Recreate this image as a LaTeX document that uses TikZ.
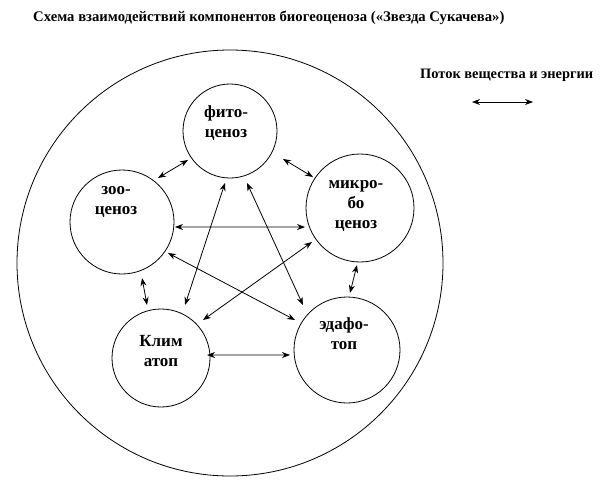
\documentclass[tikz,border=0pt]{standalone}
\usepackage{fontspec}
\setmainfont{Liberation Serif}
\usetikzlibrary{arrows.meta,calc}
\tikzset{
  ring/.style={draw, circle, line width=0.8pt, inner sep=0pt},
  lbl/.style={font=\fontsize{17}{20}\selectfont\bfseries, align=center, inner sep=0pt},
  flow/.style={line width=0.8pt, {Stealth[length=8pt,width=6pt]}-{Stealth[length=8pt,width=6pt]}},
}
\begin{document}
\begin{tikzpicture}[x=1pt,y=-1pt]
\useasboundingbox (0,0) rectangle (600,480);
% title and legend
\node[font=\fontsize{14.7}{16}\selectfont\bfseries, anchor=west, inner sep=0pt] (title) at (33,18) {Схема взаимодействий компонентов биогеоценоза («Звезда Сукачева»)};
\node[font=\fontsize{14.4}{16}\selectfont\bfseries, anchor=west, inner sep=0pt] (legend) at (420,75) {Поток вещества и энергии};
\coordinate (la) at (472,102);
\coordinate (lb) at (533,102);
\draw[flow] (la) -- (lb);
% big circle
\node[ring, minimum size=426pt] (big) at (230,263) {};
% component circles
\node[ring, minimum size=94pt] (F) at (230,131) {};
\node[ring, minimum size=104pt] (Z) at (122,222) {};
\node[ring, minimum size=108pt] (M) at (360,208) {};
\node[ring, minimum size=98pt] (K) at (161,358) {};
\node[ring, minimum size=106pt] (E) at (347,350) {};
% texts
\node[lbl] (Ft) at (226,123) {фито-\\ценоз};
\node[lbl] (Zt) at (116,202) {зоо-\\ценоз};
\node[lbl] (Mt) at (356,206) {микро-\\бо\\ценоз};
\node[lbl] (Kt) at (161,351) {Клим\\атоп};
\node[lbl] (Et) at (344,334) {эдафо-\\топ};
% flows (angles negated because y points down)
\draw[flow] ($(F)+(-214.6:51)$) -- ($(Z)+(-50.7:56.9)$);
\draw[flow] ($(F)+(-332.2:59.9)$) -- ($(M)+(-146.6:56.3)$);
\draw[flow] ($(Z)+(-354.6:53.2)$) -- ($(M)+(-199.1:58.2)$);
\draw[flow] ($(F)+(-264.5:52.2)$) -- ($(K)+(-65.6:58.2)$);
\draw[flow] ($(F)+(-288.1:54.7)$) -- ($(E)+(-134.4:62.9)$);
\draw[flow] ($(Z)+(-326:55.5)$) -- ($(E)+(-150:60)$);
\draw[flow] ($(M)+(-215.3:58.8)$) -- ($(K)+(-42.1:56.6)$);
\draw[flow] ($(Z)+(-289.7:59.5)$) -- ($(K)+(-104.8:54.8)$);
\draw[flow] ($(M)+(-267:57.1)$) -- ($(E)+(-87:57.1)$);
\draw[flow] ($(K)+(-3.7:46.1)$) -- ($(E)+(-185:57.2)$);
\end{tikzpicture}
\end{document}
